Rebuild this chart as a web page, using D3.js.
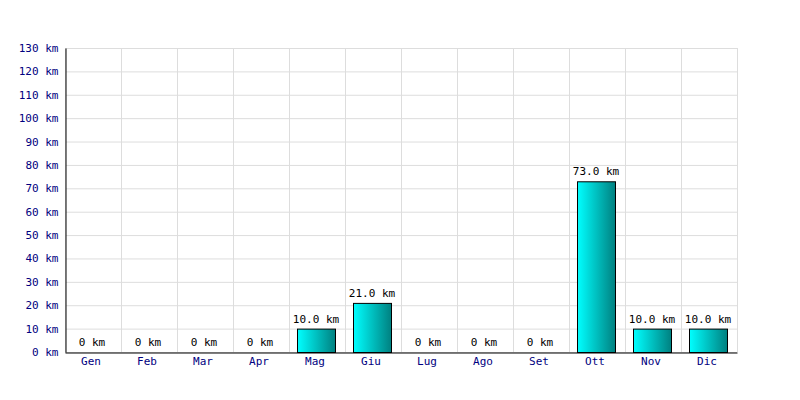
<!DOCTYPE html>
<html><head><meta charset="utf-8">
<script src="https://cdn.jsdelivr.net/npm/d3@7"></script>
<style>body{margin:0;background:#fff}svg{display:block}</style>
</head><body>
<script>
const months = ["Gen","Feb","Mar","Apr","Mag","Giu","Lug","Ago","Set","Ott","Nov","Dic"];
const values = [0,0,0,0,10,21,0,0,0,73,10,10];
const yTicks = [0,10,20,30,40,50,60,70,80,90,100,110,120,130];

const W=800,H=400, m={l:65,r:63,t:48,b:48};
const svg=d3.select("body").append("svg").attr("width",W).attr("height",H);
const defs=svg.append("defs");
const g=defs.append("linearGradient").attr("id","bg").attr("x1","0").attr("x2","1").attr("y1","0").attr("y2","0");
g.append("stop").attr("offset","0").attr("stop-color","#00ffff");
g.append("stop").attr("offset","1").attr("stop-color","#008080");

const x=d3.scaleBand().domain(months).range([m.l,W-m.r]).paddingInner(0).paddingOuter(0);
const y=d3.scaleLinear().domain([0,130]).range([H-m.b,m.t]);
const font="'DejaVu Sans Mono', monospace";

// grid
svg.append("g").selectAll("line.h").data(yTicks).join("line")
 .attr("x1",m.l).attr("x2",W-m.r).attr("y1",d=>y(d)+0.5).attr("y2",d=>y(d)+0.5)
 .attr("stroke","#dddddd");
const vx = months.map(d=>x(d)).concat([W-m.r]);
svg.append("g").selectAll("line.v").data(vx).join("line")
 .attr("x1",d=>d+0.5).attr("x2",d=>d+0.5).attr("y1",m.t).attr("y2",H-m.b)
 .attr("stroke","#dddddd");

// bars
const bw=38;
svg.append("g").selectAll("rect").data(values.map((v,i)=>({m:months[i],v}))).join("rect")
 .filter(d=>d.v>0)
 .attr("x",d=>x(d.m)+(x.bandwidth()-bw)/2-0.5).attr("width",bw)
 .attr("y",d=>y(d.v)+0.5).attr("height",d=>y(0)-y(d.v))
 .attr("fill","url(#bg)").attr("stroke","#000").attr("stroke-width",1);

// value labels
svg.append("g").selectAll("text").data(values.map((v,i)=>({m:months[i],v}))).join("text")
 .attr("x",d=>x(d.m)+x.bandwidth()/2-1).attr("y",d=>y(d.v)-6)
 .attr("text-anchor","middle").attr("font-family",font).attr("font-size","11px").attr("fill","#000")
 .text(d=>d.v===0?"0 km":d.v.toFixed(1)+" km");

// axes
const ya=d3.axisLeft(y).tickValues(yTicks).tickSize(0).tickPadding(7).tickFormat(d=>d+" km");
const yg=svg.append("g").attr("transform",`translate(${m.l+0.5},0)`).call(ya);
yg.select(".domain").attr("stroke","#000");
yg.selectAll("text").attr("font-family",font).attr("font-size","11px").attr("fill","#000080");
const xa=d3.axisBottom(x).tickSize(0).tickPadding(5);
const xg=svg.append("g").attr("transform",`translate(0,${H-m.b+0.5})`).call(xa);
xg.select(".domain").attr("stroke","#000");
xg.selectAll("text").attr("font-family",font).attr("font-size","11px").attr("fill","#000080").attr("dx","-2");
</script>
</body></html>
